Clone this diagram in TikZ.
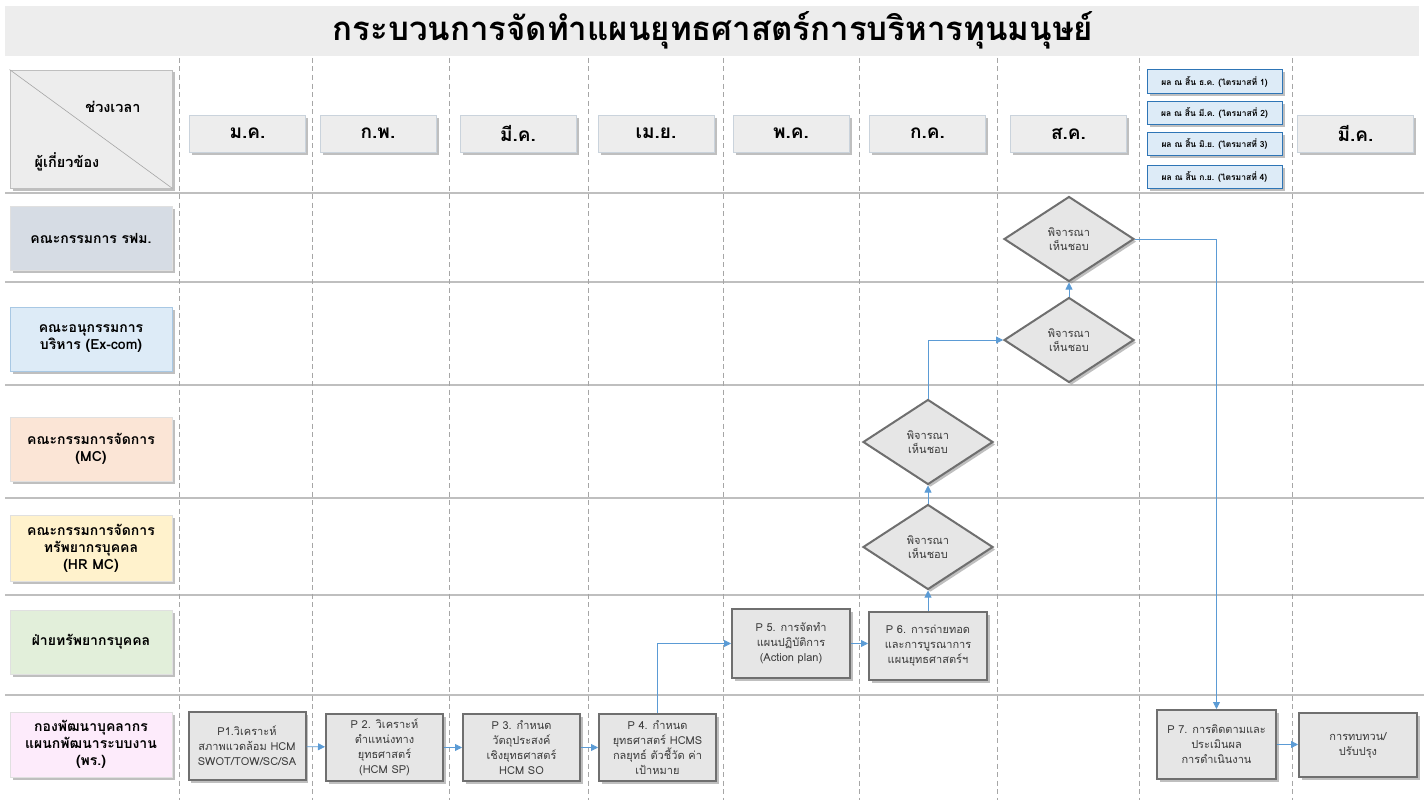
\documentclass[tikz,border=0pt]{standalone}
\usepackage{fontspec}
\setmainfont[Script=Thai]{Loma}
\usetikzlibrary{shapes.geometric,shadows,arrows.meta}
\definecolor{titlebg}{HTML}{EDEDED}
\definecolor{lanegray}{HTML}{BFBFBF}
\definecolor{dashgray}{HTML}{A6A6A6}
\definecolor{boxgray}{HTML}{E6E6E6}
\definecolor{boxborder}{HTML}{6F6F6F}
\definecolor{monthfill}{HTML}{EDEDED}
\definecolor{monthborder}{HTML}{CAD3DC}
\definecolor{qfill}{HTML}{DDEBF7}
\definecolor{qborder}{HTML}{2E75B6}
\definecolor{arrowblue}{HTML}{5B9BD5}
\definecolor{cRFM}{HTML}{D6DCE4}
\definecolor{cEx}{HTML}{DDEBF7}
\definecolor{cMC}{HTML}{FBE5D6}
\definecolor{cHR}{HTML}{FFF2CC}
\definecolor{cHRD}{HTML}{E2EFDA}
\definecolor{cPR}{HTML}{FDEBFB}
\definecolor{txtgray}{HTML}{3A3A3A}
\tikzset{
  shad/.style={drop shadow={shadow xshift=2.5pt,shadow yshift=-2.5pt,fill=black!45,opacity=0.55}},
  lanebox/.style={shad,draw=black!12,line width=0.6pt,minimum width=162pt,minimum height=64pt,align=center,
    font=\bfseries\fontsize{14}{17}\selectfont,inner sep=2pt},
  monthbox/.style={shad,fill=monthfill,draw=monthborder,line width=0.8pt,minimum width=116pt,minimum height=37pt,
    font=\bfseries\fontsize{19}{22}\selectfont,inner sep=0pt},
  qbox/.style={shad,fill=qfill,draw=qborder,line width=1pt,minimum width=135pt,minimum height=23pt,
    font=\bfseries\fontsize{8.5}{10}\selectfont,inner sep=0pt},
  procbox/.style={shad,fill=boxgray,draw=boxborder,line width=2pt,minimum width=117pt,minimum height=67pt,
    align=center,text=txtgray,font=\fontsize{11}{15}\selectfont,inner sep=2pt},
  decision/.style={shad,diamond,fill=boxgray,draw=boxborder,line width=2pt,minimum width=130pt,minimum height=85pt,
    inner sep=0pt,align=center,text=txtgray,font=\fontsize{11}{14}\selectfont},
  flow/.style={draw=arrowblue,line width=0.8pt,-{Triangle[length=7pt,width=7pt]}},
  laneline/.style={draw=lanegray,line width=1.2pt},
  colline/.style={draw=dashgray,line width=1pt,dash pattern=on 5pt off 3.5pt},
  cornertext/.style={font=\bfseries\fontsize{14.5}{17}\selectfont}
}
\begin{document}
\begin{tikzpicture}[x=1pt,y=-1pt]
\useasboundingbox[fill=white] (0,0) rectangle (1424,800);
% title
\fill[titlebg] (5,6) rectangle (1419,56);
\node[font=\bfseries\fontsize{33}{36}\selectfont] (title) at (713,30) {กระบวนการจัดทำแผนยุทธศาสตร์การบริหารทุนมนุษย์};
% lane lines
\foreach \yy in {193,282,385,498,595,695} {\draw[laneline] (5,\yy) -- (1424,\yy);}
% column lines
\foreach \xx in {179,312,449,588,723,859,997,1139,1292} {\draw[colline] (\xx,58) -- (\xx,800);}
% corner header
\node[shad,fill=monthfill,draw=black!25,line width=0.8pt,minimum width=162pt,minimum height=118pt] (corner) at (91,129) {};
\draw[draw=black!35,line width=0.6pt] (corner.north west) -- (corner.south east);
\node[cornertext] (tlabel) at (113,107) {ช่วงเวลา};
\node[cornertext] (plabel) at (67,162) {ผู้เกี่ยวข้อง};
% months
\node[monthbox] (m1) at (247.5,133.5) {ม.ค.};
\node[monthbox] (m2) at (378,133.5) {ก.พ.};
\node[monthbox] (m3) at (518,133.5) {มี.ค.};
\node[monthbox] (m4) at (656,133.5) {เม.ย.};
\node[monthbox] (m5) at (791,133.5) {พ.ค.};
\node[monthbox] (m7) at (927.5,133.5) {ก.ค.};
\node[monthbox] (m8) at (1068.5,133.5) {ส.ค.};
\node[monthbox] (m3b) at (1355.5,133.5) {มี.ค.};
% quarters
\node[qbox] (q1) at (1214.5,81.5) {ผล ณ สิ้น ธ.ค. (ไตรมาสที่ 1)};
\node[qbox] (q2) at (1214.5,113) {ผล ณ สิ้น มี.ค. (ไตรมาสที่ 2)};
\node[qbox] (q3) at (1214.5,143.5) {ผล ณ สิ้น มิ.ย. (ไตรมาสที่ 3)};
\node[qbox] (q4) at (1214.5,176.5) {ผล ณ สิ้น ก.ย. (ไตรมาสที่ 4)};
% lanes
\node[lanebox,fill=cRFM] (l1) at (91,238) {คณะกรรมการ รฟม.};
\node[lanebox,fill=cEx,draw=qfill!70!qborder] (l2) at (91,339) {คณะอนุกรรมการ\\บริหาร (Ex-com)};
\node[lanebox,fill=cMC] (l3) at (91,449) {คณะกรรมการจัดการ\\(MC)};
\node[lanebox,fill=cHR,minimum height=66pt] (l4) at (91,548) {คณะกรรมการจัดการ\\ทรัพยากรบุคคล\\(HR MC)};
\node[lanebox,fill=cHRD] (l5) at (91,642) {ฝ่ายทรัพยากรบุคคล};
\node[lanebox,fill=cPR,minimum height=65pt] (l6) at (91,744.5) {กองพัฒนาบุคลากร\\แผนกพัฒนาระบบงาน\\(พร.)};
% processes
\node[procbox,minimum height=68pt] (p1) at (247,746) {P1.วิเคราะห์\\สภาพแวดล้อม HCM\\SWOT/TOW/SC/SA};
\node[procbox] (p2) at (384.5,747.5) {P 2. วิเคราะห์\\ตำแหน่งทาง\\ยุทธศาสตร์\\(HCM SP)};
\node[procbox] (p3) at (521.5,747.5) {P 3. กำหนด\\วัตถุประสงค์\\เชิงยุทธศาสตร์\\HCM SO};
\node[procbox] (p4) at (657.5,747.5) {P 4. กำหนด\\ยุทธศาสตร์ HCMS\\กลยุทธ์ ตัวชี้วัด ค่า\\เป้าหมาย};
\node[procbox,minimum width=118pt,minimum height=69pt] (p5) at (791,643.5) {P 5. การจัดทำ\\แผนปฏิบัติการ\\(Action plan)};
\node[procbox,minimum width=118pt,minimum height=68pt] (p6) at (928,646) {P 6. การถ่ายทอด\\และการบูรณาการ\\แผนยุทธศาสตร์ฯ};
\node[procbox,minimum width=119pt,minimum height=69pt] (p7) at (1216.5,744.5) {P 7. การติดตามและ\\ประเมินผล\\การดำเนินงาน};
\node[procbox,minimum width=118pt,minimum height=64pt] (rv) at (1358,745) {การทบทวน/\\ปรับปรุง};
% decisions
\node[decision] (d4) at (928,547) {พิจารณา\\เห็นชอบ};
\node[decision] (d3) at (928,442) {พิจารณา\\เห็นชอบ};
\node[decision] (d2) at (1069,340) {พิจารณา\\เห็นชอบ};
\node[decision] (d1) at (1069,239) {พิจารณา\\เห็นชอบ};
% connectors
\draw[flow] (p1) -- (p2);
\draw[flow] (p2) -- (p3);
\draw[flow] (p3) -- (p4);
\draw[flow] (p4.north) |- (p5.west);
\draw[flow] (p5.east) -- (p6.west |- p5.east);
\draw[flow] (p6.north) -- (d4.south);
\draw[flow] (d4.north) -- (d3.south);
\draw[flow] (d3.north) |- (d2.west);
\draw[flow] (d2.north) -- (d1.south);
\draw[flow] (d1.east) -| (p7.north);
\draw[flow] (p7.east) -- (rv.west |- p7.east);
\end{tikzpicture}
\end{document}
